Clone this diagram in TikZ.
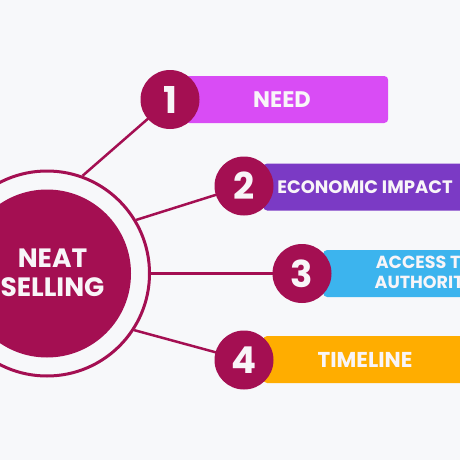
\documentclass[tikz,border=0pt]{standalone}
\usepackage{fontspec}
\setmainfont{Poppins}
\usetikzlibrary{backgrounds}
\definecolor{bgc}{HTML}{F7F8FA}
\definecolor{mag}{HTML}{A40F52}
\definecolor{cone}{HTML}{D94CF5}
\definecolor{ctwo}{HTML}{7B3AC5}
\definecolor{cthree}{HTML}{3CB4EE}
\definecolor{cfour}{HTML}{FFAD00}
\definecolor{txt}{HTML}{F8F5F8}
\pgfdeclarelayer{bottom}
\pgfsetlayers{bottom,background,main}
\tikzset{
  numc/.style={circle, fill=mag, minimum size=59pt, inner sep=0pt, text=txt,
    font=\bfseries\fontsize{37}{37}\selectfont},
  barbox/.style={fill=#1, rounded corners=4pt, minimum width=203pt, minimum height=47pt, anchor=west, inner sep=0pt},
  bartext/.style={text=txt, font=\bfseries\fontsize{18}{20}\selectfont, align=center, inner sep=0pt},
  conn/.style={draw=mag, line width=2.5pt},
}
\begin{document}
\begin{tikzpicture}[x=1pt,y=-1pt]
\useasboundingbox (0,0) rectangle (460,460);
\begin{pgfonlayer}{bottom}
\fill[bgc] (0,0) rectangle (460,460);
\end{pgfonlayer}
\begin{scope}
\clip (0,0) rectangle (460,460);
% central
\node[circle, fill=mag, minimum size=168pt, inner sep=0pt] (core) at (47,273.5) {};
\node[circle, draw=mag, line width=3pt, minimum size=205pt, inner sep=0pt] (ring) at (47,273.5) {};
\node[text=txt, font=\bfseries\fontsize{26.5}{29}\selectfont, align=center, inner sep=0pt] (title) at (52.5,273) {NEAT\\SELLING};
% bars
\node[barbox=cone] (b1) at (185,99.5) {};
\node[barbox=ctwo] (b2) at (263,187) {};
\node[barbox=cthree] (b3) at (323,273.5) {};
\node[barbox=cfour] (b4) at (263,359.5) {};
% texts
\node[bartext, font=\bfseries\fontsize{22.5}{24}\selectfont] (t1) at (282,100) {NEED};
\node[bartext] (t2) at (365,187) {ECONOMIC IMPACT};
\node[bartext, font=\bfseries\fontsize{17.5}{20}\selectfont] (t3) at (425,272.5) {ACCESS TO\\AUTHORITY};
\node[bartext, font=\bfseries\fontsize{21.5}{24}\selectfont] (t4) at (365,360) {TIMELINE};
% number circles
\node[numc] (n1) at (170,99.5) {1};
\node[numc] (n2) at (244,186) {2};
\node[numc] (n3) at (302,273.5) {3};
\node[numc] (n4) at (244,360) {4};
% connectors
\begin{pgfonlayer}{background}
\draw[conn] (ring.70) -- (n1.center);
\draw[conn] (ring.31) -- (n2.center);
\draw[conn] (ring.0) -- (n3.center);
\draw[conn] (ring.-33) -- (n4.center);
\end{pgfonlayer}
\end{scope}
\end{tikzpicture}
\end{document}
